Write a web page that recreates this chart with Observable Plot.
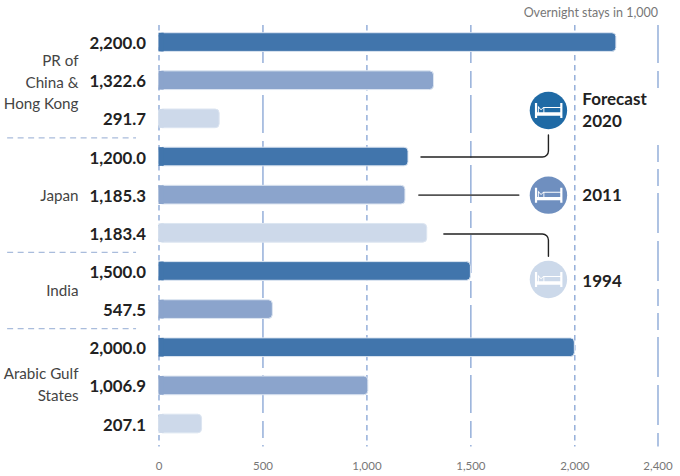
<!DOCTYPE html>
<html>
<head>
<meta charset="utf-8">
<style>html,body{margin:0;padding:0;background:#fff}svg{display:block}</style>
<script src="https://cdn.jsdelivr.net/npm/d3@7"></script>
<script src="https://cdn.jsdelivr.net/npm/@observablehq/plot@0.6"></script>
</head>
<body>
<div id="chart"></div>
<script>
const years = ["2020", "2011", "1994"];
const colors = ["#4175ac", "#8ba4cc", "#cdd9ea"];
const iconColors = ["#1f6aa5", "#6f8fbf", "#ccd9ea"];
const rowYears = ["2020","2011","1994","2020","2011","1994","2020","2011","2020","2011","1994"];
const barValues = [2200, 1322.6, 291.7, 1200, 1185.3, 1290, 1500, 547.5, 2000, 1006.9, 207.1];
const valueLabels = ["2,200.0","1,322.6","291.7","1,200.0","1,185.3","1,183.4","1,500.0","547.5","2,000.0","1,006.9","207.1"];
const categories = ["PR of\nChina &\nHong Kong", "Japan", "India", "Arabic Gulf\nStates"];
const categoryRows = [1, 3.98, 6.45, 8.93];
const separatorRows = [2.5, 5.5, 7.5];
const tickValues = [0, 500, 1000, 1500, 2000, 2400];
const shortDashTicks = [0, 1000, 2000];
const unitNote = "Overnight stays in 1,000";
const legendLabels = ["Forecast\n2020", "2011", "1994"];
const legendRows = [1.78, 4, 6.21];
const legendLabelRows = [1.73, 3.98, 6.22];
const legendX = 1873;

const rows = barValues.map((v, i) => ({row: i, value: v, year: rowYears[i], label: valueLabels[i]}));
const half = 0.245;

const bedSymbol = {
  draw(c) {
    c.rect(-13.5, -7.5, 2.2, 15);
    c.rect(11.8, -7.5, 2.2, 15);
    c.rect(-11.5, 1.8, 23.5, 3.4);
    // sheet line
    c.rect(-5, -3.4, 17, 1);
    // turn-down
    c.rect(-5, -3.4, 0.9, 5.4);
    // pillow
    c.moveTo(-10.5, -4.6);
    c.lineTo(-7.4, -1.2);
    c.lineTo(-5, -3.4);
    c.lineTo(-5, -2.4);
    c.lineTo(-7.4, -0.1);
    c.lineTo(-9.6, -2.4);
    c.lineTo(-9.6, 2);
    c.lineTo(-10.5, 2);
    c.closePath();
  }
};

const rounded = (ctx) => {
  let pts = [];
  return {
    areaStart() {}, areaEnd() {},
    lineStart() { pts = []; },
    point(x, y) { pts.push([x, y]); },
    lineEnd() {
      ctx.moveTo(pts[0][0], pts[0][1]);
      for (let i = 1; i < pts.length - 1; i++) ctx.arcTo(pts[i][0], pts[i][1], pts[i + 1][0], pts[i + 1][1], 6);
      const l = pts[pts.length - 1];
      ctx.lineTo(l[0], l[1]);
    }
  };
};

const connector2020 = [{x: 1260, y: 3}, {x: legendX, y: 3}, {x: legendX, y: 2.42}];
const connector2011 = [{x: 1250, y: 4}, {x: 1730, y: 4}];
const connector1994 = [{x: 1370, y: 5.02}, {x: legendX, y: 5.02}, {x: legendX, y: 5.6}];

const grid = "#7a9bd0";
const font = "Lato, 'Open Sans', sans-serif";
const longDash = "38,8,17,7";

const plot = Plot.plot({
  width: 680,
  height: 476,
  marginLeft: 158.5,
  marginRight: 22.5,
  marginTop: 23,
  marginBottom: 33.4,
  style: {fontFamily: font, background: "#fff"},
  x: {domain: [0, 2400], label: null},
  y: {domain: [-0.5, 10.5], reverse: true, axis: null, label: null},
  color: {domain: years, range: colors},
  marks: [
    Plot.ruleX(tickValues.filter(t => shortDashTicks.includes(t)), {y1: -0.45, y2: 10.6, stroke: grid, strokeWidth: 1.2, strokeDasharray: "5.5,4.5"}),
    Plot.ruleX(tickValues.filter(t => !shortDashTicks.includes(t) && t !== 2400), {y1: -0.45, y2: 10.6, stroke: grid, strokeWidth: 1.2, strokeDasharray: longDash}),
    Plot.ruleX([2400], {y1: -0.45, y2: 1.23, stroke: grid, strokeWidth: 1.2, strokeDasharray: longDash}),
    Plot.ruleX([2400], {y1: 2.7, y2: 10.6, stroke: grid, strokeWidth: 1.2, strokeDasharray: "17,7,17,7,40,8,40,8"}),
    Plot.ruleY(separatorRows, {x1: -728, x2: -108, stroke: "#a9bcdc", strokeWidth: 1.2, strokeDasharray: "6,4.5"}),
    Plot.rect(rows, {x1: 0, x2: "value", y1: d => d.row - half, y2: d => d.row + half, fill: "year", stroke: "#dce5f1", strokeWidth: 1, rx: 4}),
    Plot.rect(rows, {x1: 0, x2: 25, y1: d => d.row - half, y2: d => d.row + half, fill: "year", rx: 0}),
    Plot.text(rows, {x: 0, y: "row", text: "label", dx: -13, dy: 1.2, textAnchor: "end", fontWeight: 700, fontSize: 16.8, fill: "#222"}),
    Plot.text(categories, {x: 0, y: (d, i) => categoryRows[i], text: d => d, dx: -80.5, textAnchor: "end", fontSize: 15.2, fontWeight: 400, fill: "#444", lineHeight: 1.42}),
    Plot.line(connector2020, {x: "x", y: "y", stroke: "#222", strokeWidth: 1.4, curve: rounded}),
    Plot.line(connector2011, {x: "x", y: "y", stroke: "#555", strokeWidth: 1.6}),
    Plot.line(connector1994, {x: "x", y: "y", stroke: "#222", strokeWidth: 1.4, curve: rounded}),
    Plot.dot(years, {x: legendX, y: (d, i) => legendRows[i], r: 18.7, fill: (d, i) => iconColors[i]}),
    Plot.dot(years, {x: legendX, y: (d, i) => legendRows[i], r: 10, symbol: bedSymbol, fill: "#fff", stroke: "none"}),
    Plot.text(legendLabels, {x: 2036, y: (d, i) => legendLabelRows[i], text: d => d, textAnchor: "start", fontSize: 17, fontWeight: 700, fill: "#222", lineHeight: 1.3}),
    Plot.axisX({ticks: tickValues, tickSize: 0, tickPadding: 19, tickFormat: d3.format(","), fontSize: 11.5, color: "#777", label: null, anchor: "bottom"}),
    Plot.text([unitNote], {x: 2400, y: -0.5, dy: -11, text: d => d, textAnchor: "end", fontSize: 12.5, fontWeight: 400, fill: "#777"})
  ]
});
document.getElementById("chart").appendChild(plot);
</script>
</body>
</html>
